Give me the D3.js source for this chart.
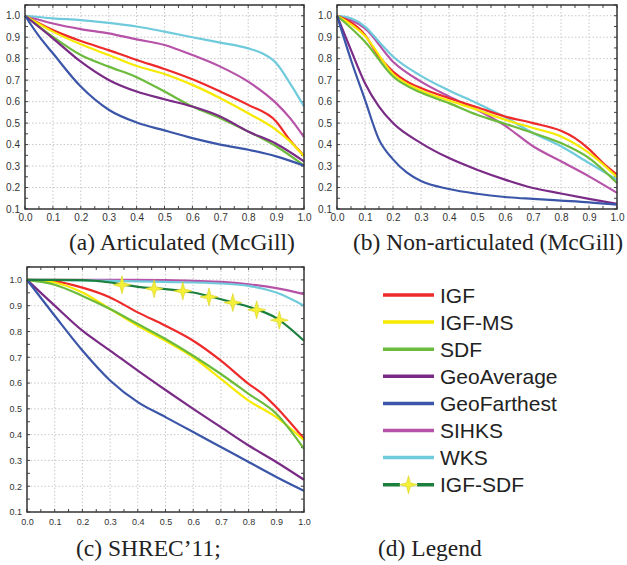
<!DOCTYPE html>
<html><head><meta charset="utf-8">
<script src="https://cdn.jsdelivr.net/npm/d3@7"></script>
<style>body{margin:0;background:#fff}svg{display:block}</style>
</head><body>
<svg id="c" width="627" height="565"></svg>
<script>
// ---- Data ----
const seriesNames = ["IGF","IGF-MS","SDF","GeoAverage","GeoFarthest","SIHKS","WKS","IGF-SDF"];
const seriesColors = ["#ee2a2a","#f7ea00","#6cbb3c","#7a2b86","#3b56a8","#b653a8","#6fcbdc","#1b7f3e"];
const xTicks = [0,0.1,0.2,0.3,0.4,0.5,0.6,0.7,0.8,0.9,1.0];
const yTicks = [0.1,0.2,0.3,0.4,0.5,0.6,0.7,0.8,0.9,1.0];
const captions = ["(a) Articulated (McGill)","(b) Non-articulated (McGill)","(c) SHREC\u201911;","(d) Legend"];

// Panel (a) Articulated (McGill): [recall, precision]
const a_IGF = [[0,1],[0.1,0.933],[0.2,0.882],[0.3,0.84],[0.4,0.794],[0.5,0.752],[0.6,0.704],[0.7,0.647],[0.8,0.585],[0.9,0.508],[0.95,0.42],[1,0.348]];
const a_IGFMS = [[0,1],[0.1,0.926],[0.2,0.867],[0.3,0.817],[0.4,0.766],[0.5,0.729],[0.6,0.678],[0.7,0.616],[0.8,0.546],[0.9,0.469],[0.95,0.415],[1,0.345]];
const a_SDF = [[0,1],[0.1,0.902],[0.2,0.817],[0.3,0.763],[0.4,0.714],[0.5,0.647],[0.6,0.577],[0.7,0.523],[0.8,0.461],[0.9,0.392],[1,0.302]];
const a_GeoAvg = [[0,1],[0.1,0.895],[0.2,0.786],[0.3,0.701],[0.4,0.647],[0.5,0.611],[0.6,0.577],[0.7,0.531],[0.8,0.461],[0.9,0.404],[1,0.322]];
const a_GeoFar = [[0,1],[0.05,0.905],[0.1,0.825],[0.2,0.67],[0.3,0.562],[0.4,0.503],[0.5,0.466],[0.6,0.43],[0.7,0.4],[0.8,0.376],[0.9,0.345],[1,0.302]];
const a_SIHKS = [[0,1],[0.1,0.964],[0.2,0.938],[0.3,0.918],[0.4,0.89],[0.5,0.864],[0.6,0.817],[0.7,0.763],[0.8,0.693],[0.9,0.593],[0.95,0.523],[1,0.435]];
const a_WKS = [[0,1],[0.1,0.988],[0.2,0.98],[0.3,0.967],[0.4,0.95],[0.5,0.926],[0.6,0.9],[0.7,0.875],[0.8,0.848],[0.85,0.825],[0.9,0.78],[0.95,0.685],[1,0.578]];

// Panel (b) Non-articulated (McGill)
const b_IGF = [[0,1],[0.1,0.91],[0.15,0.81],[0.2,0.74],[0.25,0.693],[0.3,0.663],[0.4,0.616],[0.5,0.574],[0.6,0.531],[0.7,0.5],[0.8,0.464],[0.85,0.43],[0.9,0.379],[0.95,0.314],[1,0.26]];
const b_IGFMS = [[0,1],[0.1,0.906],[0.2,0.729],[0.3,0.652],[0.4,0.605],[0.5,0.562],[0.6,0.516],[0.7,0.477],[0.8,0.438],[0.9,0.361],[1,0.248]];
const b_SDF = [[0,1],[0.1,0.879],[0.2,0.717],[0.3,0.642],[0.4,0.593],[0.5,0.539],[0.6,0.497],[0.7,0.454],[0.8,0.407],[0.9,0.337],[1,0.221]];
const b_GeoAvg = [[0,1],[0.05,0.84],[0.1,0.686],[0.15,0.577],[0.2,0.5],[0.3,0.407],[0.4,0.337],[0.5,0.283],[0.6,0.237],[0.7,0.198],[0.8,0.172],[0.9,0.147],[1,0.124]];
const b_GeoFar = [[0,1],[0.05,0.794],[0.1,0.608],[0.15,0.423],[0.2,0.331],[0.25,0.269],[0.3,0.23],[0.4,0.193],[0.5,0.171],[0.6,0.156],[0.7,0.147],[0.8,0.139],[0.9,0.131],[1,0.12]];
const b_SIHKS = [[0,1],[0.1,0.941],[0.2,0.786],[0.3,0.693],[0.4,0.624],[0.5,0.562],[0.6,0.488],[0.7,0.392],[0.8,0.322],[0.9,0.252],[1,0.175]];
const b_WKS = [[0,1],[0.05,0.988],[0.1,0.949],[0.15,0.879],[0.2,0.81],[0.3,0.72],[0.4,0.652],[0.5,0.593],[0.6,0.528],[0.7,0.454],[0.8,0.392],[0.9,0.314],[1,0.237]];

// Panel (c) SHREC'11
const c_IGF = [[0,1],[0.1,0.994],[0.2,0.97],[0.3,0.932],[0.4,0.874],[0.5,0.822],[0.6,0.764],[0.7,0.687],[0.8,0.597],[0.85,0.558],[0.9,0.506],[1,0.384]];
const c_IGFMS = [[0,1],[0.1,0.99],[0.2,0.951],[0.3,0.887],[0.4,0.822],[0.5,0.764],[0.6,0.7],[0.7,0.616],[0.8,0.532],[0.9,0.468],[1,0.378]];
const c_SDF = [[0,1],[0.1,0.981],[0.2,0.938],[0.3,0.887],[0.4,0.829],[0.5,0.771],[0.6,0.706],[0.7,0.635],[0.8,0.558],[0.9,0.481],[1,0.345]];
const c_GeoAvg = [[0,1],[0.1,0.9],[0.2,0.803],[0.3,0.726],[0.4,0.648],[0.5,0.573],[0.6,0.5],[0.7,0.429],[0.8,0.358],[0.9,0.294],[1,0.225]];
const c_GeoFar = [[0,1],[0.1,0.861],[0.2,0.726],[0.3,0.61],[0.4,0.526],[0.5,0.468],[0.6,0.41],[0.7,0.352],[0.8,0.294],[0.9,0.236],[1,0.182]];
const c_SIHKS = [[0,1],[0.3,1],[0.5,0.999],[0.6,0.996],[0.7,0.992],[0.8,0.983],[0.9,0.968],[1,0.945]];
const c_WKS = [[0,1],[0.1,0.999],[0.3,0.996],[0.5,0.992],[0.7,0.986],[0.8,0.977],[0.9,0.951],[1,0.9]];
const c_IGFSDF = [[0,1],[0.2,0.999],[0.3,0.99],[0.4,0.973],[0.5,0.964],[0.6,0.951],[0.7,0.925],[0.8,0.896],[0.9,0.852],[1,0.764]];
const c_IGFSDF_markers = [[0.343,0.981],[0.459,0.966],[0.5625,0.957],[0.657,0.934],[0.743,0.912],[0.829,0.884],[0.911,0.844]];

const panelA = [a_IGF,a_IGFMS,a_SDF,a_GeoAvg,a_GeoFar,a_SIHKS,a_WKS];
const panelB = [b_IGF,b_IGFMS,b_SDF,b_GeoAvg,b_GeoFar,b_SIHKS,b_WKS];
const panelC = [c_IGF,c_IGFMS,c_SDF,c_GeoAvg,c_GeoFar,c_SIHKS,c_WKS,c_IGFSDF];

// ---- Drawing ----
const svg = d3.select("#c");
const fmt = d3.format(".1f");

function star(cx, cy, r){
  const pts=[];
  for(let i=0;i<8;i++){
    const ang = i*Math.PI/4 - Math.PI/2;
    const rr = i%2===0 ? r : r*0.3;
    pts.push([cx+rr*Math.cos(ang), cy+rr*Math.sin(ang)]);
  }
  return "M"+pts.map(p=>p.join(",")).join("L")+"Z";
}

function panel(box, data, opts){
  const g = svg.append("g");
  const x = d3.scaleLinear().domain([0,1]).range([box.x0, box.x1]);
  const y = d3.scaleLinear().domain([0.1,1.05]).range([box.y1, box.y0]);
  // grid
  g.append("g").selectAll("line").data(xTicks.slice(1,-1)).join("line")
    .attr("x1",d=>x(d)).attr("x2",d=>x(d)).attr("y1",box.y0).attr("y2",box.y1)
    .attr("stroke","#c8c8c8").attr("stroke-width",1).attr("stroke-dasharray","1.5,2");
  g.append("g").selectAll("line").data(yTicks.slice(1)).join("line")
    .attr("x1",box.x0).attr("x2",box.x1).attr("y1",d=>y(d)).attr("y2",d=>y(d))
    .attr("stroke","#c8c8c8").attr("stroke-width",1).attr("stroke-dasharray","1.5,2");
  // axes
  const fs = opts.fs || 10;
  const yAx = g.append("g").attr("transform",`translate(${box.x0},0)`)
    .call(d3.axisLeft(y).tickValues(yTicks).tickFormat(fmt).tickSize(0).tickPadding(5));
  const xAx = g.append("g").attr("transform",`translate(0,${box.y1})`)
    .call(d3.axisBottom(x).tickValues(xTicks).tickFormat(fmt).tickSize(0).tickPadding(opts.xpad||5));
  [yAx,xAx].forEach(a=>{
    a.select(".domain").remove();
    a.selectAll("text").attr("font-family","'Liberation Sans', Arial, sans-serif")
      .attr("font-size",fs).attr("fill","#333");
  });
  // minor inner ticks
  const minor = d3.range(0,1.0001,0.05);
  const minorY = d3.range(0.1,1.0501,0.05);
  const tk = g.append("g").attr("stroke","#444").attr("stroke-width",1);
  minor.forEach(v=>{
    tk.append("line").attr("x1",x(v)).attr("x2",x(v)).attr("y1",box.y0).attr("y2",box.y0+3);
    tk.append("line").attr("x1",x(v)).attr("x2",x(v)).attr("y1",box.y1).attr("y2",box.y1-3);
  });
  minorY.forEach(v=>{
    tk.append("line").attr("x1",box.x0).attr("x2",box.x0+3).attr("y1",y(v)).attr("y2",y(v));
    tk.append("line").attr("x1",box.x1).attr("x2",box.x1-3).attr("y1",y(v)).attr("y2",y(v));
  });
  // lines
  const line = d3.line().x(d=>x(d[0])).y(d=>y(d[1])).curve(d3.curveMonotoneX);
  const order = [5,6,0,1,2,3,4,7].filter(i=>i<data.length);
  order.forEach(i=>{
    g.append("path").attr("d",line(data[i])).attr("fill","none")
      .attr("stroke",seriesColors[i]).attr("stroke-width",2.2);
  });
  if(opts.markers){
    g.append("g").selectAll("path").data(opts.markers).join("path")
      .attr("d",d=>star(x(d[0]),y(d[1]),9))
      .attr("fill","#f4f03a").attr("stroke","#d8d020").attr("stroke-width",0.6);
  }
  // frame
  g.append("rect").attr("x",box.x0).attr("y",box.y0).attr("width",box.x1-box.x0).attr("height",box.y1-box.y0)
    .attr("fill","none").attr("stroke","#333").attr("stroke-width",1.5);
}

panel({x0:25,x1:304,y0:5,y1:209}, panelA, {fs:10});
panel({x0:337,x1:617,y0:5,y1:209}, panelB, {fs:10});
panel({x0:27,x1:304,y0:267,y1:512}, panelC, {fs:9, markers:c_IGFSDF_markers, xpad:7});

// captions
const capPos = [[69,250],[353,250],[76,556],[378,556]];
captions.forEach((t,i)=>{
  svg.append("text").attr("x",capPos[i][0]).attr("y",capPos[i][1]).text(t)
    .attr("font-family","'Liberation Serif','Times New Roman',serif").attr("font-size",23.5).attr("fill","#222");
});

// legend
const lg = svg.append("g");
seriesNames.forEach((n,i)=>{
  const yy = 295 + i*27.1;
  lg.append("line").attr("x1",383).attr("x2",434).attr("y1",yy).attr("y2",yy)
    .attr("stroke",seriesColors[i]).attr("stroke-width",3.5);
  if(i===7){
    lg.append("line").attr("x1",400).attr("x2",417).attr("y1",yy).attr("y2",yy).attr("stroke","#fff").attr("stroke-width",4);
    lg.append("path").attr("d",star(408.5,yy,9)).attr("fill","#f4f03a").attr("stroke","#d8d020").attr("stroke-width",0.6);
  }
  lg.append("text").attr("x",440).attr("y",yy+7.5).text(n)
    .attr("font-family","'Liberation Sans', Arial, sans-serif").attr("font-size",21).attr("fill","#222");
});
</script>
</body></html>
